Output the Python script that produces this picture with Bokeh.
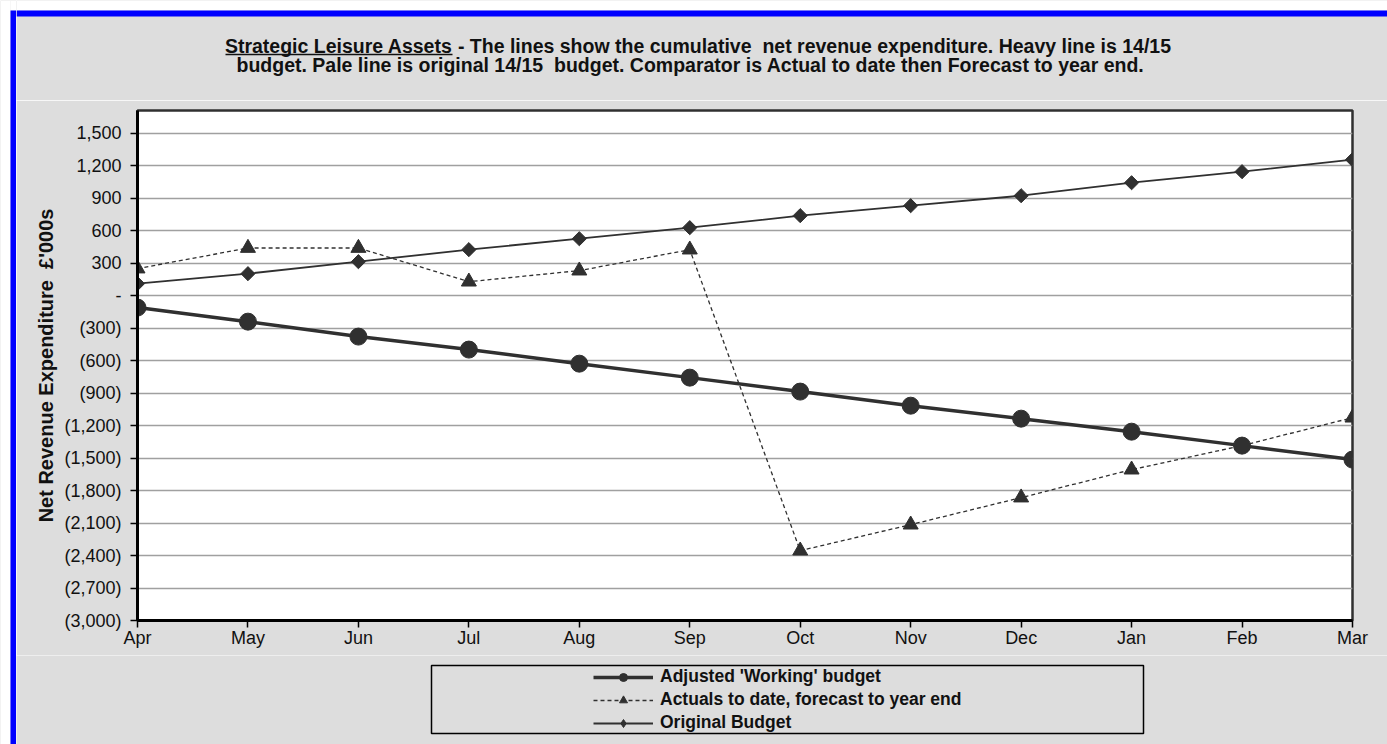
from bokeh.plotting import figure
from bokeh.models import Range1d, FixedTicker, Legend, LegendItem, ColumnDataSource
from bokeh.layouts import row, column
from bokeh.core.properties import value
from bokeh.embed import file_html
from bokeh.resources import INLINE
import numpy as np

# ---- data ----
months = ["Apr", "May", "Jun", "Jul", "Aug", "Sep", "Oct", "Nov", "Dec", "Jan", "Feb", "Mar"]
adjusted_working = [-110, -240, -378, -498, -628, -757, -886, -1016, -1136, -1256, -1385, -1514]
actuals_forecast = [250, 440, 440, 129, 231, 425, -2355, -2115, -1865, -1607, -1385, -1127]
original_budget = [111, 203, 314, 425, 526, 628, 739, 831, 923, 1043, 1145, 1256]
y_ticks = [-3000, -2700, -2400, -2100, -1800, -1500, -1200, -900, -600, -300, 0,
           300, 600, 900, 1200, 1500]
y_tick_labels = ["(3,000)", "(2,700)", "(2,400)", "(2,100)", "(1,800)", "(1,500)", "(1,200)",
                 "(900)", "(600)", "(300)", "-", "300", "600", "900", "1,200", "1,500"]
series_names = ["Adjusted 'Working' budget", "Actuals to date, forecast to year end", "Original Budget"]
NB = "\u00a0"
title_part_a = "Strategic Leisure Assets"
title_part_b = NB + "- The lines show the cumulative" + NB + " net revenue expenditure. Heavy line is 14/15"
title_line2 = "budget. Pale line is original 14/15" + NB + " budget. Comparator is Actual to date then Forecast to year end."
y_label = "Net Revenue Expenditure" + NB + " £'000s"

W, H = 1387, 744
FONT = "Liberation Sans"
INK = "#303030"
TXT = "#111111"
BG = "#dddddd"
BLUE = "#0000ff"
STRIP = 16          # width of the left white+blue edge
TOP_H = 100         # height of the title band
LEG_H = 89          # height of the legend band
MAIN_H = H - TOP_H - LEG_H
INNER_W = W - STRIP


def blank(width, height, xr, yr):
    f = figure(width=width, height=height, output_backend="svg", toolbar_location=None,
               x_range=xr, y_range=yr, x_axis_location=None, y_axis_location=None,
               min_border=0)
    f.frame_align = False
    f.outline_line_color = None
    f.grid.visible = False
    f.background_fill_color = BG
    f.border_fill_color = BG
    return f


# ---- left edge strip (white margin + blue edge) ----
strip = blank(STRIP, H, Range1d(0, STRIP), Range1d(H, 0))
strip.quad(left=[0, 10], right=[10, 16], top=[0, 0], bottom=[H, 10], fill_color="white", line_color=None)
strip.quad(left=[10], right=[16], top=[10], bottom=[H], fill_color=BLUE, line_color=None)

# ---- title band ----
TITLE_SIZE = "19.5px"
SPLIT = 452
top = blank(INNER_W, TOP_H, Range1d(STRIP, W), Range1d(TOP_H, 0))
top.quad(left=[STRIP], right=[W], top=[0], bottom=[10], fill_color="white", line_color=None)
top.quad(left=[STRIP], right=[W], top=[10], bottom=[16], fill_color=BLUE, line_color=None)
top.text(x=[SPLIT], y=[45], text=[title_part_a], text_align="right", text_baseline="middle",
         text_font=value(FONT), text_font_size=TITLE_SIZE, text_font_style="bold", text_color=TXT)
top.text(x=[SPLIT], y=[45], text=[title_part_b], text_align="left", text_baseline="middle",
         text_font=value(FONT), text_font_size=TITLE_SIZE, text_font_style="bold", text_color=TXT)
top.text(x=[690], y=[64], text=[title_line2], text_align="center", text_baseline="middle",
         text_font=value(FONT), text_font_size=TITLE_SIZE, text_font_style="bold", text_color=TXT)
top.segment(x0=[SPLIT - 227], y0=[54], x1=[SPLIT], y1=[54], line_color=TXT, line_width=1.5)

# ---- main chart ----
x = list(range(len(months)))
p = figure(width=INNER_W, height=MAIN_H, output_backend="svg", toolbar_location=None,
           x_range=Range1d(0, len(months) - 1), y_range=Range1d(-3000, 1710),
           min_border_left=137 - STRIP, min_border_right=35, min_border_top=110 - TOP_H,
           min_border_bottom=(TOP_H + MAIN_H) - 620)
p.frame_align = False
p.border_fill_color = BG
p.background_fill_color = "white"
p.outline_line_color = "#303030"
p.outline_line_width = 2.5

p.xaxis.ticker = FixedTicker(ticks=x)
p.xaxis.major_label_overrides = {i: m for i, m in enumerate(months)}
p.yaxis.ticker = FixedTicker(ticks=y_ticks)
p.yaxis.major_label_overrides = {t: l for t, l in zip(y_ticks, y_tick_labels)}
for ax in (p.xaxis[0], p.yaxis[0]):
    ax.axis_line_color = "black"
    ax.axis_line_width = 3
    ax.major_tick_line_color = "black"
    ax.major_tick_line_width = 1.5
    ax.minor_tick_line_color = None
    ax.major_tick_in = 0
    ax.major_label_text_font = FONT
    ax.major_label_text_font_size = "18px"
    ax.major_label_text_color = TXT
p.xaxis.major_tick_out = 7
p.xaxis.major_label_standoff = 0
p.yaxis.major_tick_out = 7
p.yaxis.major_label_standoff = 9
p.yaxis.axis_label = y_label
p.yaxis.axis_label_text_font = FONT
p.yaxis.axis_label_text_font_size = "20px"
p.yaxis.axis_label_text_font_style = "bold"
p.yaxis.axis_label_text_color = TXT
p.yaxis.axis_label_standoff = 4

p.xgrid.grid_line_color = None
p.ygrid.grid_line_color = "#a0a0a0"
p.ygrid.grid_line_width = 1.5

p.line(x, original_budget, line_color=INK, line_width=1.8)
p.scatter(x, original_budget, marker="square", angle=np.pi / 4, size=10, fill_color=INK, line_color=INK)
p.line(x, actuals_forecast, line_color=INK, line_width=1.3, line_dash="4 3")
p.scatter(x, actuals_forecast, marker="triangle", size=15, fill_color=INK, line_color=INK)
p.line(x, adjusted_working, line_color=INK, line_width=3.5)
p.scatter(x, adjusted_working, marker="circle", size=17, fill_color=INK, line_color=INK)

# ---- legend band ----
LEG_TOP = TOP_H + MAIN_H
leg = blank(INNER_W, LEG_H, Range1d(STRIP, W), Range1d(H, LEG_TOP))
leg.quad(left=[431], right=[1143], top=[665], bottom=[733], fill_color=None,
         line_color="black", line_width=1.5)


def proxy():
    # legend-only renderers: a single undefined point, never visible
    return ColumnDataSource(dict(x=[np.nan], y=[np.nan]))


l_adj = leg.line("x", "y", source=proxy(), line_color=INK, line_width=3.5)
m_adj = leg.scatter("x", "y", source=proxy(), marker="circle", size=11,
                    fill_color=INK, line_color=INK)
l_act = leg.line("x", "y", source=proxy(), line_color=INK, line_width=1.3, line_dash="4 3")
m_act = leg.scatter("x", "y", source=proxy(), marker="triangle", size=11,
                    fill_color=INK, line_color=INK)
l_org = leg.line("x", "y", source=proxy(), line_color=INK, line_width=1.8)
m_org = leg.scatter("x", "y", source=proxy(), marker="diamond", size=12,
                    fill_color=INK, line_color=INK)
legend = Legend(items=[LegendItem(label=series_names[0], renderers=[l_adj, m_adj]),
                       LegendItem(label=series_names[1], renderers=[l_act, m_act]),
                       LegendItem(label=series_names[2], renderers=[l_org, m_org])],
                location=(593 - STRIP, LEG_H - 78), border_line_color=None,
                background_fill_alpha=0, padding=0, margin=0, glyph_width=60,
                glyph_height=20, label_height=20, spacing=2, label_standoff=7,
                label_text_font=FONT, label_text_font_size="17.5px",
                label_text_font_style="bold", label_text_color=TXT)
leg.add_layout(legend)

layout = row(strip, column(top, p, leg))
open("out.html", "w").write(file_html(layout, INLINE))
